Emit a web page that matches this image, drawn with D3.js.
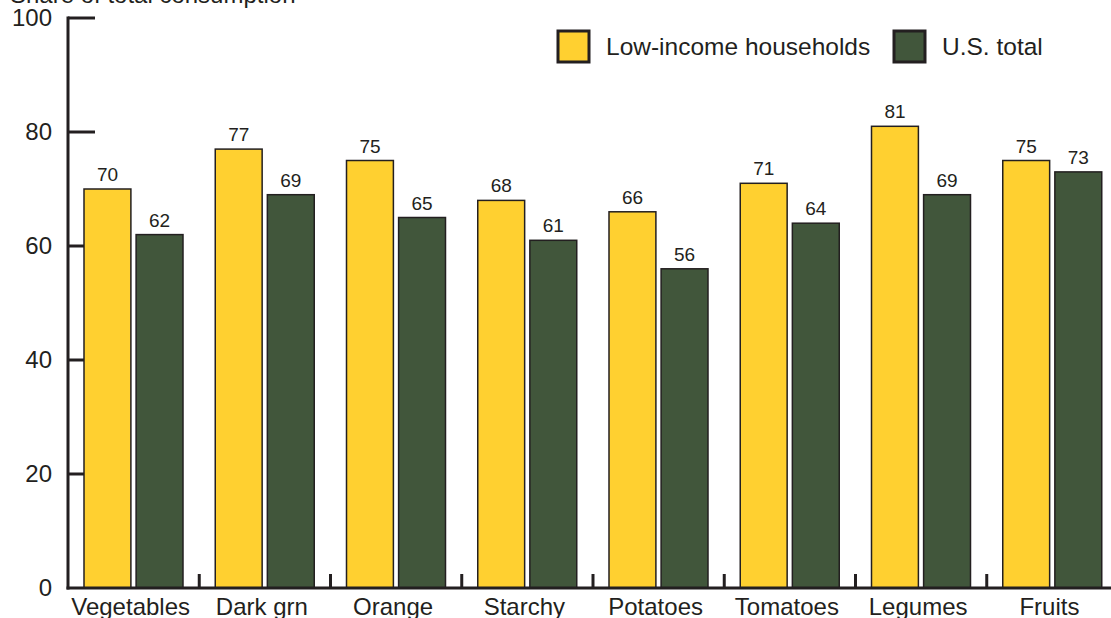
<!DOCTYPE html>
<html>
<head>
<meta charset="utf-8">
<script src="https://cdn.jsdelivr.net/npm/d3@7"></script>
<style>
  body { margin: 0; background: #fff; }
  svg { display: block; font-family: "Liberation Sans", Arial, sans-serif; }
</style>
</head>
<body>
<svg width="1111" height="618"></svg>
<script>
// Data
const categories = ["Vegetables", "Dark grn", "Orange", "Starchy", "Potatoes", "Tomatoes", "Legumes", "Fruits"];
const seriesNames = ["Low-income households", "U.S. total"];
const lowIncome = [70, 77, 75, 68, 66, 71, 81, 75];
const usTotal = [62, 69, 65, 61, 56, 64, 69, 73];
const yTicks = [0, 20, 40, 60, 80, 100];

const colors = { "Low-income households": "#ffd030", "U.S. total": "#41563b" };
const ink = "#231f20";

const svg = d3.select("svg");

// Building rows for each category
const rows = categories.map((c, i) => ({
  cat: c,
  values: [
    { key: seriesNames[0], value: lowIncome[i] },
    { key: seriesNames[1], value: usTotal[i] }
  ]
}));

// Scales
const x0 = d3.scaleBand().domain(categories).range([68, 1118]).padding(0);
const x1 = d3.scaleBand().domain(seriesNames).range([16, 115]).paddingInner(0.1);
const y = d3.scaleLinear().domain([0, 100]).range([588, 18]);

// Y tick marks (inside, behind bars)
svg.append("g").selectAll("line")
  .data(yTicks.filter(d => d > 0))
  .join("line")
  .attr("x1", 68).attr("x2", 95)
  .attr("y1", d => y(d)).attr("y2", d => y(d))
  .attr("stroke", ink).attr("stroke-width", 3);

// Y tick labels
svg.append("g").selectAll("text")
  .data(yTicks)
  .join("text")
  .attr("x", 52)
  .attr("y", d => y(d) + 8)
  .attr("text-anchor", "end")
  .attr("font-size", 24)
  .attr("fill", ink)
  .text(d => d);

// Y axis title (cut off at top as in reference)
svg.append("text")
  .attr("x", 10).attr("y", 3)
  .attr("font-size", 24)
  .attr("fill", ink)
  .text("Share of total consumption");

// X tick marks between groups
svg.append("g").selectAll("line")
  .data(categories.slice(1))
  .join("line")
  .attr("x1", d => x0(d)).attr("x2", d => x0(d))
  .attr("y1", 574).attr("y2", 588)
  .attr("stroke", ink).attr("stroke-width", 3);

// Bars
const groups = svg.append("g").selectAll("g")
  .data(rows)
  .join("g")
  .attr("transform", d => `translate(${x0(d.cat)},0)`);

groups.selectAll("rect")
  .data(d => d.values)
  .join("rect")
  .attr("x", d => x1(d.key))
  .attr("y", d => y(d.value))
  .attr("width", x1.bandwidth())
  .attr("height", d => y(0) - y(d.value))
  .attr("fill", d => colors[d.key])
  .attr("stroke", ink)
  .attr("stroke-width", 1.5);

// Value labels
groups.selectAll("text")
  .data(d => d.values)
  .join("text")
  .attr("x", d => x1(d.key) + x1.bandwidth() / 2)
  .attr("y", d => y(d.value) - 8)
  .attr("text-anchor", "middle")
  .attr("font-size", 19)
  .attr("fill", ink)
  .text(d => d.value);

// Axis lines
svg.append("line")
  .attr("x1", 68).attr("x2", 68)
  .attr("y1", 16.5).attr("y2", 589.5)
  .attr("stroke", ink).attr("stroke-width", 3);
svg.append("line")
  .attr("x1", 66.5).attr("x2", 1111)
  .attr("y1", 588).attr("y2", 588)
  .attr("stroke", ink).attr("stroke-width", 3);

// Category labels
svg.append("g").selectAll("text")
  .data(categories)
  .join("text")
  .attr("x", d => x0(d) + x0.bandwidth() / 2 - 3)
  .attr("y", 615)
  .attr("text-anchor", "middle")
  .attr("font-size", 24)
  .attr("fill", ink)
  .text(d => d);

// Legend
const legendX = [558, 894];
const legend = svg.append("g").selectAll("g")
  .data(seriesNames)
  .join("g")
  .attr("transform", (d, i) => `translate(${legendX[i]},31)`);

legend.append("rect")
  .attr("width", 31).attr("height", 31)
  .attr("fill", d => colors[d])
  .attr("stroke", ink)
  .attr("stroke-width", 3);

legend.append("text")
  .attr("x", 48).attr("y", 24)
  .attr("font-size", 24.5)
  .attr("fill", ink)
  .text(d => d);
</script>
</body>
</html>
